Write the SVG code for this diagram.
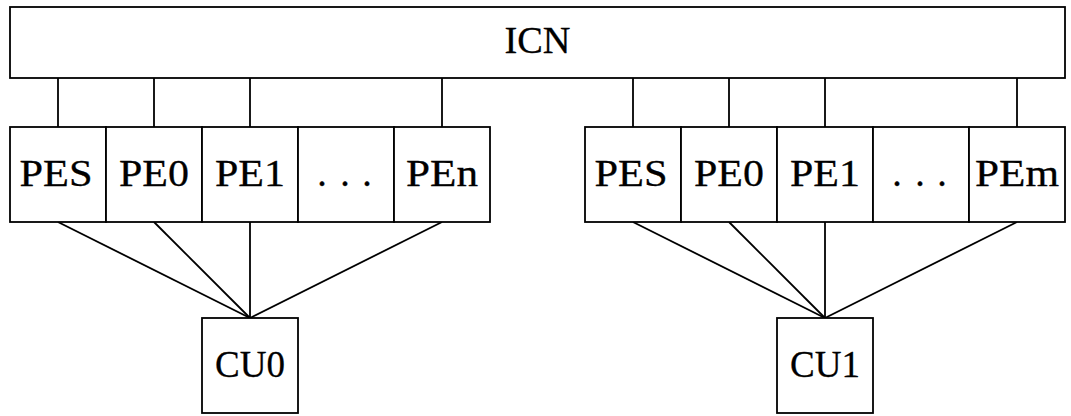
<svg xmlns="http://www.w3.org/2000/svg" width="1071" height="416" viewBox="0 0 1071 416">
  <style>
    rect { fill: #ffffff; stroke: #000000; stroke-width: 1.8; }
    line { stroke: #000000; stroke-width: 1.8; }
    text { font-family: "Liberation Serif", "Times New Roman", Times, serif; font-size: 38px; fill: #000000; stroke: #000000; stroke-width: 0.3; text-anchor: middle; }
  </style>
  <rect x="0" y="0" width="1071" height="416" style="stroke:none"/>

  <!-- links: network to PEs, PEs to control units -->
  <g id="connectors">
    <line x1="58" y1="78" x2="58" y2="127"/>
    <line x1="154" y1="78" x2="154" y2="127"/>
    <line x1="250" y1="78" x2="250" y2="127"/>
    <line x1="442" y1="78" x2="442" y2="127"/>
    <line x1="633" y1="78" x2="633" y2="127"/>
    <line x1="729" y1="78" x2="729" y2="127"/>
    <line x1="825" y1="78" x2="825" y2="127"/>
    <line x1="1017" y1="78" x2="1017" y2="127"/>

    <line x1="58" y1="222" x2="250" y2="318"/>
    <line x1="154" y1="222" x2="250" y2="318"/>
    <line x1="250" y1="222" x2="250" y2="318"/>
    <line x1="442" y1="222" x2="250" y2="318"/>
    <line x1="633" y1="222" x2="825" y2="318"/>
    <line x1="729" y1="222" x2="825" y2="318"/>
    <line x1="825" y1="222" x2="825" y2="318"/>
    <line x1="1017" y1="222" x2="825" y2="318"/>
  </g>

  <g id="icn">
    <rect x="10" y="7" width="1055" height="71"/>
    <text x="537.5" y="53" textLength="66" lengthAdjust="spacingAndGlyphs">ICN</text>
  </g>

  <!-- first PE array -->
  <g id="pes-a">
    <rect x="10" y="127" width="96" height="95"/>
    <text x="56" y="186" textLength="73" lengthAdjust="spacingAndGlyphs">PES</text>
  </g>
  <g id="pe0-a">
    <rect x="106" y="127" width="96" height="95"/>
    <text x="154" y="186" textLength="70" lengthAdjust="spacingAndGlyphs">PE0</text>
  </g>
  <g id="pe1-a">
    <rect x="202" y="127" width="96" height="95"/>
    <text x="250" y="186" textLength="70" lengthAdjust="spacingAndGlyphs">PE1</text>
  </g>
  <g id="dots-a">
    <rect x="298" y="127" width="96" height="95"/>
    <text x="322 333.5 345 356 367" y="186">. . .</text>
  </g>
  <g id="pen">
    <rect x="394" y="127" width="96" height="95"/>
    <text x="442" y="186" textLength="72" lengthAdjust="spacingAndGlyphs">PEn</text>
  </g>

  <!-- second PE array -->
  <g id="pes-b">
    <rect x="585" y="127" width="96" height="95"/>
    <text x="631" y="186" textLength="73" lengthAdjust="spacingAndGlyphs">PES</text>
  </g>
  <g id="pe0-b">
    <rect x="681" y="127" width="96" height="95"/>
    <text x="729" y="186" textLength="70" lengthAdjust="spacingAndGlyphs">PE0</text>
  </g>
  <g id="pe1-b">
    <rect x="777" y="127" width="96" height="95"/>
    <text x="825" y="186" textLength="70" lengthAdjust="spacingAndGlyphs">PE1</text>
  </g>
  <g id="dots-b">
    <rect x="873" y="127" width="96" height="95"/>
    <text x="897 908.5 920 931 942" y="186">. . .</text>
  </g>
  <g id="pem">
    <rect x="969" y="127" width="96" height="95"/>
    <text x="1017" y="186" textLength="84" lengthAdjust="spacingAndGlyphs">PEm</text>
  </g>

  <!-- control units -->
  <g id="cu0">
    <rect x="202" y="318" width="96" height="95"/>
    <text x="250" y="377" textLength="70" lengthAdjust="spacingAndGlyphs">CU0</text>
  </g>
  <g id="cu1">
    <rect x="777" y="318" width="96" height="95"/>
    <text x="825" y="377" textLength="70" lengthAdjust="spacingAndGlyphs">CU1</text>
  </g>
</svg>
